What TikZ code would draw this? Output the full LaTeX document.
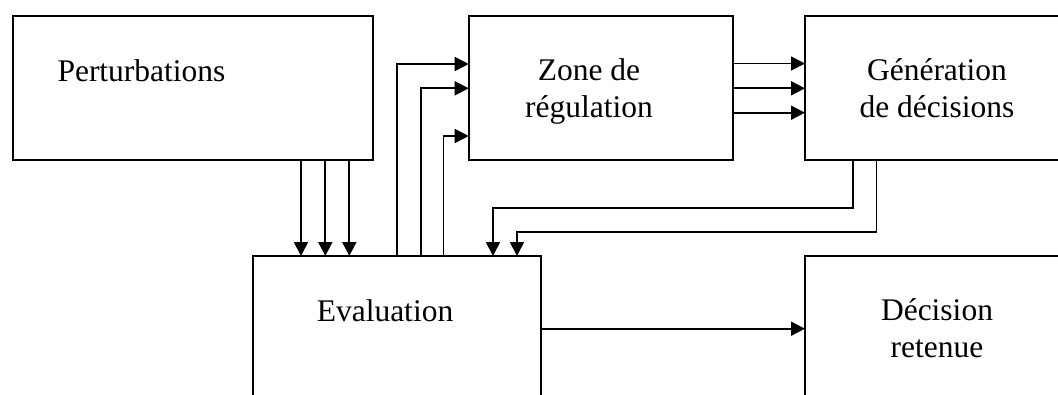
\documentclass[tikz,border=0pt]{standalone}
\usepackage{fontspec}
\setmainfont{Liberation Serif}
\usetikzlibrary{arrows.meta}
\begin{document}
\begin{tikzpicture}[x=1pt,y=-1pt,
  box/.style={draw, line width=1.8pt, inner sep=0pt, outer sep=0pt, anchor=north west},
  lbl/.style={inner sep=0pt, font=\fontsize{31.5}{37}\selectfont},
  flow/.style={line width=1.8pt, -{Triangle[length=14pt,width=14pt]}}]
\useasboundingbox (0,0) rectangle (1058,394);
\clip (0,0) rectangle (1058,394);

% blocks (the right and lower ones run past the frame)
\node[box, minimum width=360.3pt, minimum height=144.3pt] (pert) at (12.7,15.7) {};
\node[box, minimum width=264.6pt, minimum height=144pt]   (zone) at (468.7,15.7) {};
\node[box, minimum width=300pt,   minimum height=144pt]   (gen)  at (805,15.7) {};
\node[box, minimum width=288.3pt, minimum height=200pt]   (eval) at (252.7,256) {};
\node[box, minimum width=300pt,   minimum height=200pt]   (dec)  at (805,256) {};

% labels
\node[lbl, anchor=base west] (tpert)  at (57.3,81)    {Perturbations};
\node[lbl, anchor=base]      (tzone1) at (589,80)     {Zone de};
\node[lbl, anchor=base]      (tzone2) at (589,117.3)  {régulation};
\node[lbl, anchor=base]      (tgen1)  at (937,80)     {Génération};
\node[lbl, anchor=base]      (tgen2)  at (937,117.3)  {de décisions};
\node[lbl, anchor=base]      (teval)  at (385,321.7)  {Evaluation};
\node[lbl, anchor=base]      (tdec1)  at (937,320)    {Décision};
\node[lbl, anchor=base]      (tdec2)  at (937,357.3)  {retenue};

% lanes of the connectors
\coordinate (p1) at (301,0);   \coordinate (p2) at (325.3,0); \coordinate (p3) at (349.3,0);
\coordinate (u1) at (397,64);  \coordinate (u2) at (421,88.3); \coordinate (u3) at (443.5,136);
\coordinate (h1) at (0,63.5);  \coordinate (h2) at (0,88.3);  \coordinate (h3) at (0,112.7);
\coordinate (g1) at (853.3,0); \coordinate (g2) at (876.5,0);
\coordinate (k1) at (493,208.3); \coordinate (k2) at (517,232);
\coordinate (a1) at (0,328.7);

% Perturbations -> Evaluation
\foreach \c in {p1,p2,p3}
  \draw[flow] (pert.south -| \c) -- (eval.north -| \c);

% Evaluation -> Zone de regulation
\foreach \c in {u1,u2,u3}
  \draw[flow] (eval.north -| \c) -- (\c) -- (zone.west |- \c);

% Zone de regulation -> Generation de decisions
\foreach \c in {h1,h2,h3}
  \draw[flow] (zone.east |- \c) -- (gen.west |- \c);

% Generation de decisions -> Evaluation
\draw[flow] (gen.south -| g1) |- (k1) -- (eval.north -| k1);
\draw[flow] (gen.south -| g2) |- (k2) -- (eval.north -| k2);

% Evaluation -> Decision retenue
\draw[flow] (eval.east |- a1) -- (dec.west |- a1);
\end{tikzpicture}
\end{document}
